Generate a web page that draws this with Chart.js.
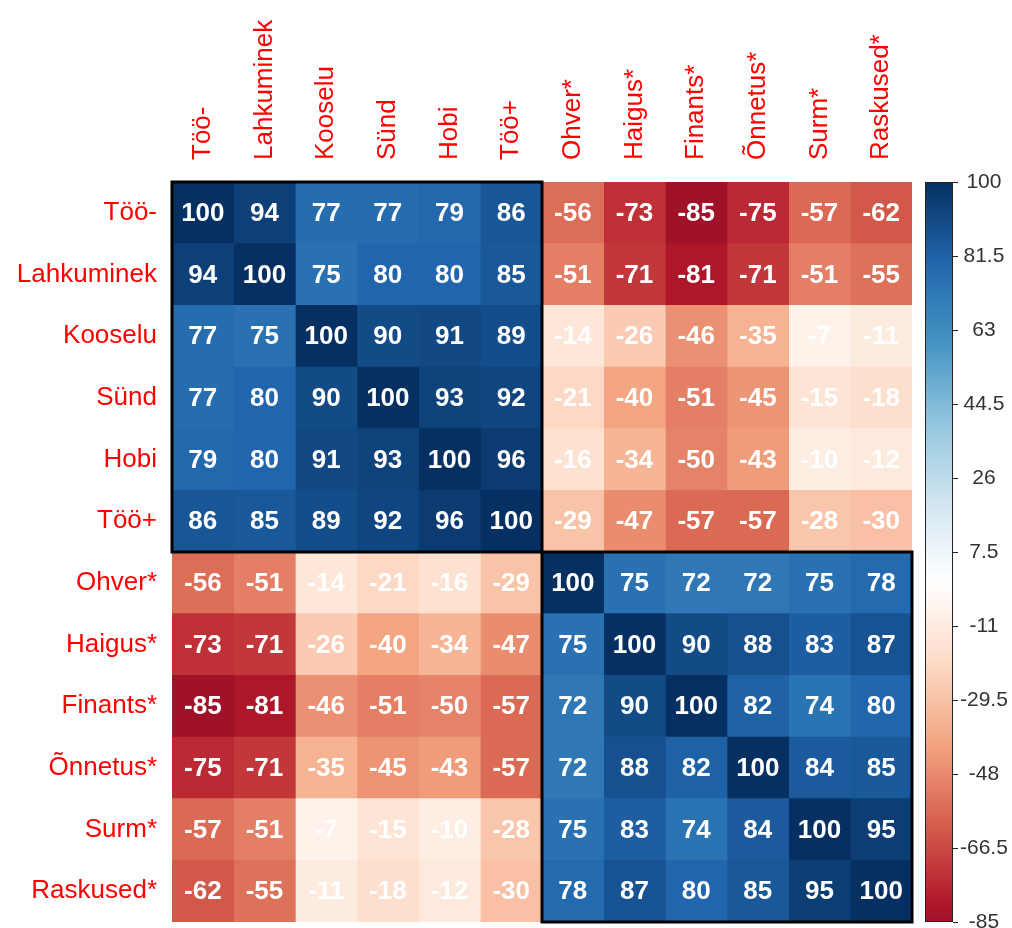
<!DOCTYPE html>
<html>
<head>
<meta charset="utf-8">
<script src="https://cdn.jsdelivr.net/npm/chart.js@4/dist/chart.umd.min.js"></script>
<style>
html,body{margin:0;padding:0;background:#fff;}
#wrap{width:1012px;height:928px;position:relative;}
</style>
</head>
<body>
<div id="wrap"><canvas id="c" width="1012" height="928"></canvas></div>
<script>
// Variable names (rows and columns share the same order)
const labels = ["Töö-","Lahkuminek","Kooselu","Sünd","Hobi","Töö+","Ohver*","Haigus*","Finants*","Õnnetus*","Surm*","Raskused*"];

// Correlation values (x100), one array per row
const rowToo1     = [100, 94, 77, 77, 79, 86, -56, -73, -85, -75, -57, -62];
const rowLahku    = [94, 100, 75, 80, 80, 85, -51, -71, -81, -71, -51, -55];
const rowKooselu  = [77, 75, 100, 90, 91, 89, -14, -26, -46, -35, -7, -11];
const rowSund     = [77, 80, 90, 100, 93, 92, -21, -40, -51, -45, -15, -18];
const rowHobi     = [79, 80, 91, 93, 100, 96, -16, -34, -50, -43, -10, -12];
const rowToo2     = [86, 85, 89, 92, 96, 100, -29, -47, -57, -57, -28, -30];
const rowOhver    = [-56, -51, -14, -21, -16, -29, 100, 75, 72, 72, 75, 78];
const rowHaigus   = [-73, -71, -26, -40, -34, -47, 75, 100, 90, 88, 83, 87];
const rowFinants  = [-85, -81, -46, -51, -50, -57, 72, 90, 100, 82, 74, 80];
const rowOnnetus  = [-75, -71, -35, -45, -43, -57, 72, 88, 82, 100, 84, 85];
const rowSurm     = [-57, -51, -7, -15, -10, -28, 75, 83, 74, 84, 100, 95];
const rowRaskused = [-62, -55, -11, -18, -12, -30, 78, 87, 80, 85, 95, 100];

// Colour bar tick labels
const colorbarTicks = [100, 81.5, 63, 44.5, 26, 7.5, -11, -29.5, -48, -66.5, -85];

// Clusters outlined with black rectangles: [startIndex, endIndex]
const clusters = [[0, 5], [6, 11]];

const matrix = [rowToo1,rowLahku,rowKooselu,rowSund,rowHobi,rowToo2,rowOhver,rowHaigus,rowFinants,rowOnnetus,rowSurm,rowRaskused];

// RdBu palette (corrplot)
const rdbu = ["#67001F","#B2182B","#D6604D","#F4A582","#FDDBC7","#FFFFFF","#D1E5F0","#92C5DE","#4393C3","#2166AC","#053061"];
function hex2rgb(h){return [parseInt(h.slice(1,3),16),parseInt(h.slice(3,5),16),parseInt(h.slice(5,7),16)];}
const rdbuRgb = rdbu.map(hex2rgb);
function colorFor(v){
  let t = (v + 100) / 200 * (rdbuRgb.length - 1);
  t = Math.max(0, Math.min(rdbuRgb.length - 1, t));
  const i = Math.min(Math.floor(t), rdbuRgb.length - 2);
  const f = t - i;
  const a = rdbuRgb[i], b = rdbuRgb[i+1];
  const c = a.map((x,k)=>Math.round(x + (b[k]-x)*f));
  return `rgb(${c[0]},${c[1]},${c[2]})`;
}

const FONT = "'Liberation Sans', Arial, Helvetica, sans-serif";

// one dataset per column; each cell is a unit-wide stacked bar segment
const datasets = labels.map((lab, j) => ({
  label: lab,
  data: labels.map(() => 1),
  backgroundColor: matrix.map(row => colorFor(row[j])),
  borderWidth: 0,
  barPercentage: 1,
  categoryPercentage: 1,
  xAxisID: 'x',
  yAxisID: 'y'
}));

const overlay = {
  id: 'overlay',
  afterDatasetsDraw(chart) {
    const ctx = chart.ctx;
    const xs = chart.scales.x, ys = chart.scales.y, yc = chart.scales.yc;
    const cellH = (ys.bottom - ys.top) / labels.length;
    // numbers
    ctx.save();
    ctx.fillStyle = '#FFFFFF';
    ctx.font = `bold 26px ${FONT}`;
    ctx.textAlign = 'center';
    ctx.textBaseline = 'middle';
    matrix.forEach((row, i) => {
      row.forEach((v, j) => {
        ctx.fillText(String(v), xs.getPixelForValue(j + 0.5), ys.getPixelForValue(i) + 1);
      });
    });
    ctx.restore();
    // cluster rectangles
    ctx.save();
    ctx.strokeStyle = '#000';
    ctx.lineWidth = 3;
    clusters.forEach(([a, b]) => {
      const x0 = xs.getPixelForValue(a), x1 = xs.getPixelForValue(b + 1);
      const y0 = ys.getPixelForValue(a) - cellH / 2, y1 = ys.getPixelForValue(b) + cellH / 2;
      ctx.strokeRect(x0, y0, x1 - x0, y1 - y0);
    });
    ctx.restore();
    // column labels
    ctx.save();
    ctx.fillStyle = '#FF0000';
    ctx.font = `26px ${FONT}`;
    ctx.textAlign = 'left';
    ctx.textBaseline = 'middle';
    labels.forEach((lab, j) => {
      ctx.save();
      ctx.translate(xs.getPixelForValue(j + 0.5), ys.top - 22);
      ctx.rotate(-Math.PI / 2);
      ctx.fillText(lab, 0, 0);
      ctx.restore();
    });
    ctx.restore();
    // colour bar
    const bx0 = chart.chartArea.right + 13, bx1 = chart.chartArea.right + 41;
    const by0 = yc.getPixelForValue(100), by1 = yc.getPixelForValue(-85);
    const grad = ctx.createLinearGradient(0, by0, 0, by1);
    for (let k = 0; k <= 37; k++) {
      const v = 100 - k * 5;
      grad.addColorStop(Math.min(1, (100 - v) / 185), colorFor(v));
    }
    ctx.save();
    ctx.fillStyle = grad;
    ctx.fillRect(bx0, by0, bx1 - bx0, by1 - by0);
    ctx.strokeStyle = '#222';
    ctx.lineWidth = 1;
    ctx.strokeRect(bx0 + 0.5, by0 + 0.5, bx1 - bx0 - 1, by1 - by0 - 1);
    ctx.beginPath();
    colorbarTicks.forEach(v => {
      const y = Math.round(yc.getPixelForValue(v)) + 0.5;
      ctx.moveTo(bx1, y);
      ctx.lineTo(bx1 + 5, y);
    });
    ctx.stroke();
    ctx.restore();
  }
};

new Chart(document.getElementById('c'), {
  type: 'bar',
  data: { labels: labels, datasets: datasets },
  options: {
    indexAxis: 'y',
    responsive: false,
    animation: false,
    devicePixelRatio: 1,
    layout: { padding: { top: 182, bottom: 6, left: 0, right: 0 } },
    plugins: { legend: { display: false }, tooltip: { enabled: false } },
    scales: {
      x: { type: 'linear', stacked: true, min: 0, max: labels.length, display: false, offset: false },
      y: {
        type: 'category', stacked: true, position: 'left',
        grid: { display: false, drawTicks: false }, border: { display: false },
        ticks: { color: '#FF0000', font: { family: FONT, size: 26 }, padding: 15 },
        afterFit(s) { s.width = 172; s.paddingTop = 0; s.paddingBottom = 0; }
      },
      yc: {
        type: 'linear', position: 'right', min: -85, max: 100, offset: false,
        grid: { display: false, drawTicks: false, offset: false }, border: { display: false },
        afterBuildTicks(s) { s.ticks = colorbarTicks.map(v => ({ value: v })); },
        ticks: {
          color: '#333333', font: { family: FONT, size: 21 }, padding: 48,
          crossAlign: 'center', autoSkip: false,
          callback: (v) => String(v)
        },
        afterFit(s) { s.width = 100; s.paddingTop = 0; s.paddingBottom = 0; }
      }
    }
  },
  plugins: [overlay]
});
</script>
</body>
</html>
